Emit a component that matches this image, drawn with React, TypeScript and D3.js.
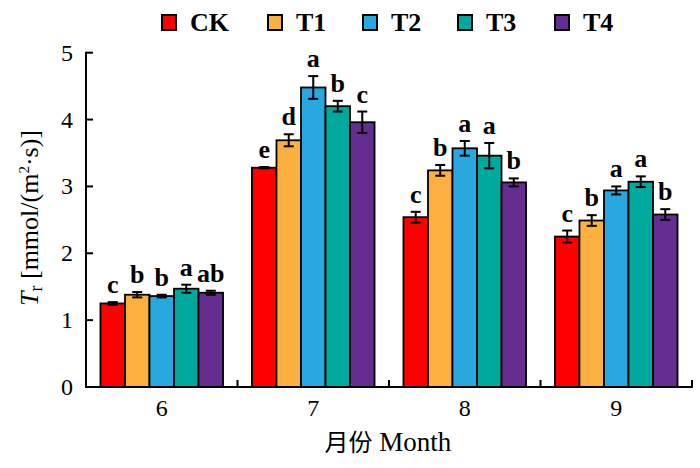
import React from "react";
import * as d3 from "d3";

const months = ["6", "7", "8", "9"];
const series = ["CK", "T1", "T2", "T3", "T4"];
const colors = ["#FF0000", "#FBB040", "#29A8E0", "#00A99D", "#662D91"];
const values = [
  [1.25, 1.38, 1.36, 1.47, 1.41],
  [3.28, 3.69, 4.48, 4.2, 3.96],
  [2.54, 3.24, 3.57, 3.46, 3.06],
  [2.25, 2.49, 2.94, 3.07, 2.58],
];
const errors = [
  [0.02, 0.04, 0.02, 0.06, 0.03],
  [0.01, 0.09, 0.17, 0.08, 0.16],
  [0.08, 0.08, 0.11, 0.19, 0.06],
  [0.09, 0.08, 0.06, 0.08, 0.08],
];
const letters = [
  ["c", "b", "b", "a", "ab"],
  ["e", "d", "a", "b", "c"],
  ["c", "b", "a", "a", "b"],
  ["c", "b", "a", "a", "b"],
];
const yTicks = [0, 1, 2, 3, 4, 5];

const serif = "Liberation Serif, DejaVu Serif, Times New Roman, serif";
const T: React.CSSProperties = { fontFamily: serif };

export default function App() {
  const W = 700;
  const H = 468;
  const left = 86;
  const right = 692;
  const top = 52.7;
  const bottom = 387;
  const x = d3.scaleBand<string>().domain(months).range([left, right]).padding(0);
  const xs = d3
    .scaleBand<string>()
    .domain(series)
    .range([0, x.bandwidth()])
    .paddingInner(0)
    .paddingOuter(0.59);
  const y = d3.scaleLinear().domain([0, 5]).range([bottom, top]);
  const boundaries = months.map((m) => (x(m) as number) + x.bandwidth());

  return (
    <svg
      width={W}
      height={H}
      style={{ position: "absolute", left: 0, top: 0, background: "#fff" }}
    >
      {/* legend */}
      {series.map((s, i) => {
        const lx = [162, 268, 363, 458, 555][i];
        return (
          <g key={s}>
            <rect x={lx} y={15} width={14} height={15} fill={colors[i]} stroke="#000" strokeWidth={2} />
            <text x={lx + 28} y={31} fontSize={26} fontWeight="bold" fill="#000" style={T}>
              {s}
            </text>
          </g>
        );
      })}

      {/* bars */}
      {months.map((m, gi) => (
        <g key={m} transform={`translate(${x(m)},0)`}>
          {series.map((s, si) => {
            const v = values[gi][si];
            const e = errors[gi][si];
            const bx = xs(s) as number;
            const bw = xs.bandwidth();
            const cx = bx + bw / 2;
            return (
              <g key={s}>
                <rect
                  x={bx}
                  y={y(v)}
                  width={bw}
                  height={y(0) - y(v)}
                  fill={colors[si]}
                  stroke="#000"
                  strokeWidth={1.8}
                />
                <line x1={cx} x2={cx} y1={y(v - e)} y2={y(v + e)} stroke="#000" strokeWidth={2} />
                <line x1={cx - 5} x2={cx + 5} y1={y(v - e)} y2={y(v - e)} stroke="#000" strokeWidth={2} />
                <line x1={cx - 5} x2={cx + 5} y1={y(v + e)} y2={y(v + e)} stroke="#000" strokeWidth={2} />
                <text
                  x={cx}
                  y={y(v + e) - 9}
                  textAnchor="middle"
                  fontSize={26}
                  fontWeight="bold"
                  fill="#000"
                  style={T}
                >
                  {letters[gi][si]}
                </text>
              </g>
            );
          })}
        </g>
      ))}

      {/* axes */}
      <line x1={left} x2={left} y1={top - 1} y2={bottom + 1} stroke="#000" strokeWidth={2} />
      <line x1={left - 1} x2={right + 1} y1={bottom} y2={bottom} stroke="#000" strokeWidth={2} />
      {yTicks.map((t) => (
        <g key={t}>
          <line x1={left} x2={left + 7} y1={y(t)} y2={y(t)} stroke="#000" strokeWidth={2} />
          <text x={73} y={y(t) + 8} textAnchor="end" fontSize={24} fill="#000" style={T}>
            {t}
          </text>
        </g>
      ))}
      {boundaries.map((b, i) => (
        <line key={i} x1={b} x2={b} y1={bottom} y2={bottom - 7} stroke="#000" strokeWidth={2} />
      ))}
      {months.map((m) => (
        <text
          key={m}
          x={(x(m) as number) + x.bandwidth() / 2}
          y={416}
          textAnchor="middle"
          fontSize={24}
          fill="#000"
          style={T}
        >
          {m}
        </text>
      ))}

      {/* axis titles */}
      <text x={388} y={451} textAnchor="middle" fontSize={27} fill="#000" style={T}>
        <tspan style={{ fontFamily: "Noto Sans CJK SC, sans-serif" }} fontSize={24}>月份</tspan>
        <tspan> Month</tspan>
      </text>
      <text
        transform={`translate(38,218) rotate(-90)`}
        textAnchor="middle"
        fontSize={26}
        fill="#000"
        style={T}
      >
        <tspan fontStyle="italic">T</tspan>
        <tspan fontSize={18} dy={4}>r</tspan>
        <tspan dy={-4}> [mmol/(m</tspan>
        <tspan fontSize={15} dy={-9}>2</tspan>
        <tspan dy={9}>·s)]</tspan>
      </text>
    </svg>
  );
}
